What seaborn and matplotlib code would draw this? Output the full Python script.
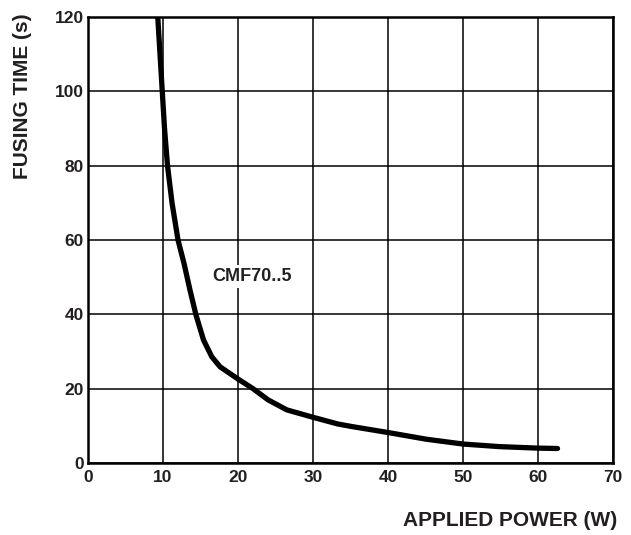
import pandas as pd
import matplotlib
matplotlib.use('Agg')
import matplotlib.pyplot as plt
import seaborn as sns

# Данные
power_w = [9.3, 9.6, 9.9, 10.2, 10.6, 11.2, 12.0, 12.8, 13.6, 14.4, 15.4,
           16.5, 17.6, 20.0, 22.0, 24.0, 26.5, 30.0, 33.3, 35.2, 40.0,
           45.1, 50.0, 54.9, 60.0, 62.6]
fusing_s = [120, 110, 100, 90, 80, 70, 60, 53.7, 46.5, 39.8, 33.1,
            28.6, 25.9, 22.6, 20.0, 17.0, 14.3, 12.3, 10.5, 9.8, 8.2,
            6.4, 5.1, 4.4, 4.0, 3.9]
x_ticks = [0, 10, 20, 30, 40, 50, 60, 70]
y_ticks = [0, 20, 40, 60, 80, 100, 120]
curve_label = 'CMF70..5'

TXT = '#231f20'

sns.set_style('white')
plt.rcParams['font.family'] = ['Liberation Sans', 'DejaVu Sans']

df = pd.DataFrame({'power': power_w, 'time': fusing_s})

fig = plt.figure(figsize=(6.31, 5.35), dpi=100)
ax = fig.add_axes([0.1395, 0.1346, 0.832, 0.8334])

sns.lineplot(data=df, x='power', y='time', color='black', linewidth=3.8,
             sort=False, ax=ax, solid_capstyle='round', solid_joinstyle='round')

ax.set_xlim(0, 70)
ax.set_ylim(0, 120)
ax.set_xticks(x_ticks)
ax.set_yticks(y_ticks)
ax.grid(True, color='black', linewidth=1.1)
ax.set_axisbelow(True)
for s in ax.spines.values():
    s.set_color('black')
    s.set_linewidth(1.8)
ax.tick_params(length=0, labelsize=12.5, labelcolor=TXT)
ax.tick_params(axis='x', pad=5)
ax.tick_params(axis='y', pad=3)
for lbl in ax.get_xticklabels() + ax.get_yticklabels():
    lbl.set_fontweight('bold')

ax.set_xlabel('')
ax.set_ylabel('')
ax.text(21.8, 50.2, curve_label, fontsize=13, fontweight='bold', color=TXT,
        ha='center', va='center',
        bbox=dict(facecolor='white', edgecolor='none', pad=2))

fig.text(0.978, 0.027, 'APPLIED POWER (W)', fontsize=15, fontweight='bold',
         color=TXT, ha='right', va='center')
fig.text(0.036, 0.975, 'FUSING TIME (s)', fontsize=15, fontweight='bold',
         color=TXT, rotation=90, ha='center', va='top')

fig.savefig('out.png', dpi=100)
